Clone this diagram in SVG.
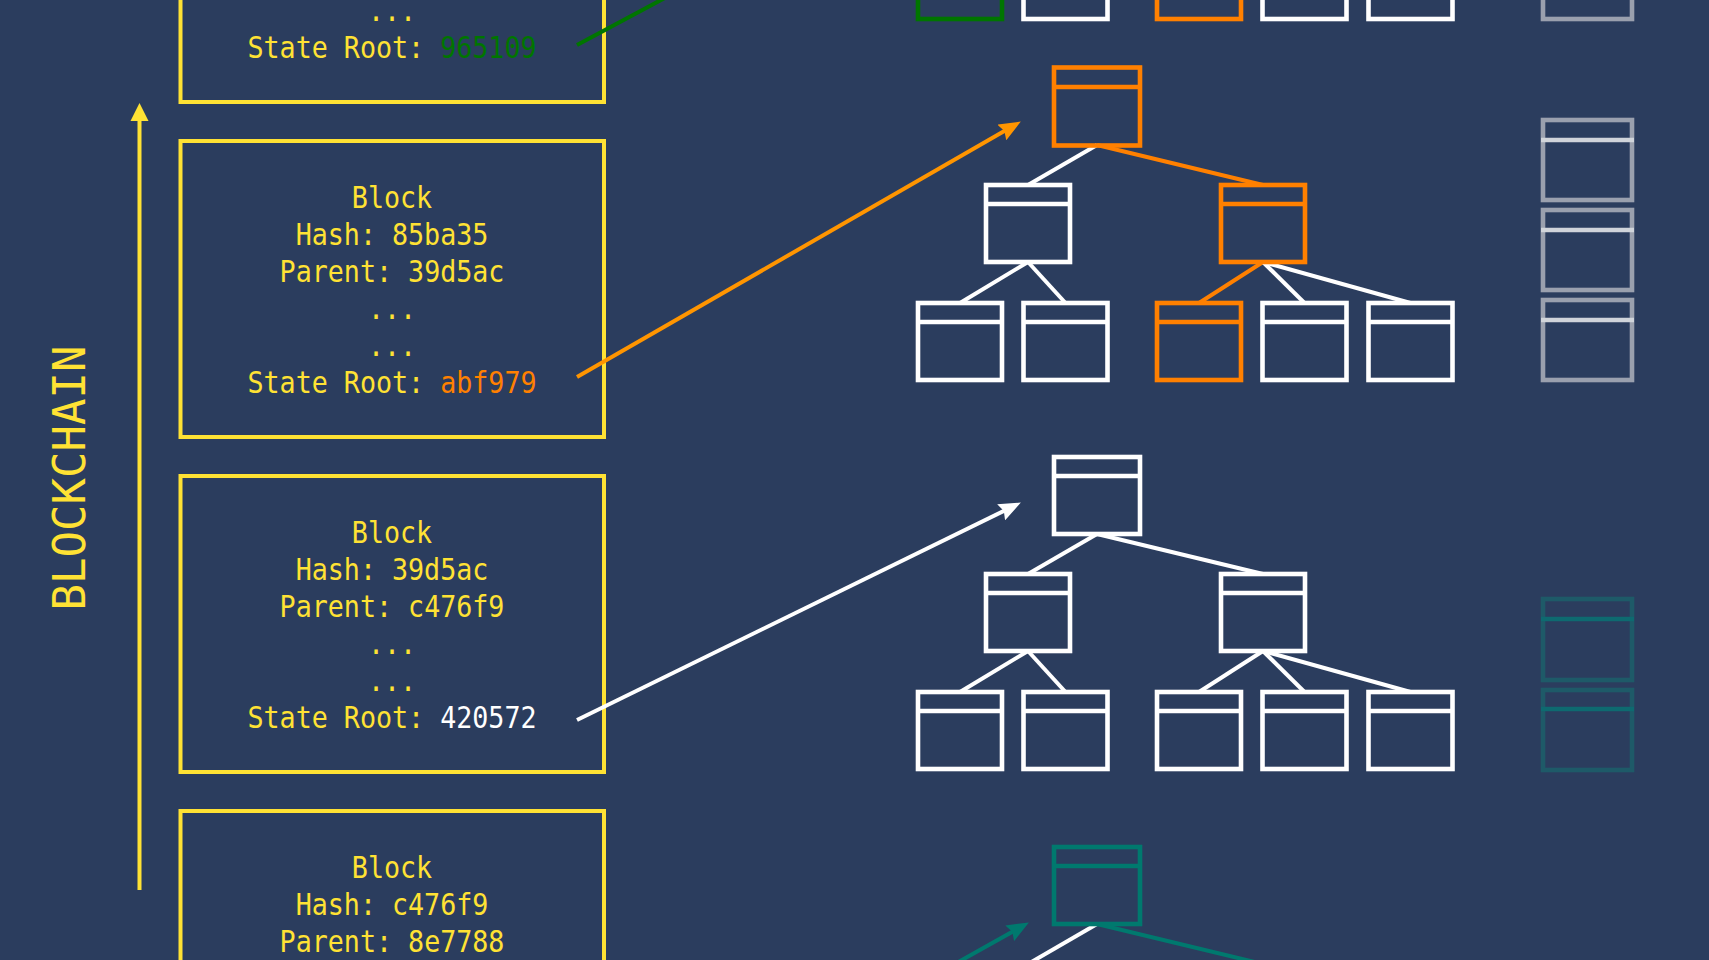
<svg xmlns="http://www.w3.org/2000/svg" width="1709" height="960" viewBox="0 0 1709 960">
<style>
.blk{fill:none;stroke:#FFE234;stroke-width:4}
.t{font-family:"DejaVu Sans Mono","Liberation Mono",monospace;font-size:30px;fill:#FFE234;text-anchor:middle}
.n{fill:none;stroke-width:4.6}
.w{stroke:#FFFFFF}
.o{stroke:#FF8000}
.g{stroke:#007500}
.tl{stroke:#00796E}
.gh{fill:none;stroke:#9AA0AE;stroke-width:4.6}
.ghd{stroke:#D0D4DA;stroke-width:4.6}
.th{fill:none;stroke:#1E5A68;stroke-width:4.6}
.thd{stroke:#0E6A70;stroke-width:4.6}
.e{fill:none;stroke-width:4}
</style>
<defs>
<marker id="aO" markerUnits="userSpaceOnUse" viewBox="0 0 22 18" refX="11" refY="9" markerWidth="22" markerHeight="18" orient="auto"><path d="M0,0 L22,9 L0,18 L3,9 z" fill="#FF9500"/></marker>
<marker id="aW" markerUnits="userSpaceOnUse" viewBox="0 0 22 18" refX="11" refY="9" markerWidth="22" markerHeight="18" orient="auto"><path d="M0,0 L22,9 L0,18 L3,9 z" fill="#FFFFFF"/></marker>
<marker id="aT" markerUnits="userSpaceOnUse" viewBox="0 0 22 18" refX="11" refY="9" markerWidth="22" markerHeight="18" orient="auto"><path d="M0,0 L22,9 L0,18 L3,9 z" fill="#00796E"/></marker>
</defs>
<rect width="1709" height="960" fill="#2B3D5E"/>

<g id="chain-label">
<text transform="translate(85,478) rotate(-90)" font-family="DejaVu Sans Mono, Liberation Mono, monospace" font-size="44" fill="#FFE234" text-anchor="middle">BLOCKCHAIN</text>
<line x1="139.5" y1="890" x2="139.5" y2="118" stroke="#FFE234" stroke-width="4"/>
<polygon points="139.5,103 148.5,121 130.5,121" fill="#FFE234"/>
</g>

<g id="block1">
<rect class="blk" x="180.5" y="-194" width="423.5" height="296"/>
<g transform="translate(392,0) scale(0.89,1)">
<text class="t" x="0" y="21">...</text>
<text class="t" x="0" y="58">State Root: <tspan fill="#007500">965109</tspan></text>
</g>
</g>
<g id="block2">
<rect class="blk" x="180.5" y="141" width="423.5" height="296"/>
<g transform="translate(392,0) scale(0.89,1)">
<text class="t" x="0" y="208">Block</text>
<text class="t" x="0" y="245">Hash: 85ba35</text>
<text class="t" x="0" y="282">Parent: 39d5ac</text>
<text class="t" x="0" y="319">...</text>
<text class="t" x="0" y="356">...</text>
<text class="t" x="0" y="393">State Root: <tspan fill="#FF8000">abf979</tspan></text>
</g>
</g>
<g id="block3">
<rect class="blk" x="180.5" y="476" width="423.5" height="296"/>
<g transform="translate(392,0) scale(0.89,1)">
<text class="t" x="0" y="543">Block</text>
<text class="t" x="0" y="580">Hash: 39d5ac</text>
<text class="t" x="0" y="617">Parent: c476f9</text>
<text class="t" x="0" y="654">...</text>
<text class="t" x="0" y="691">...</text>
<text class="t" x="0" y="728">State Root: <tspan fill="#FFFFFF">420572</tspan></text>
</g>
</g>
<g id="block4">
<rect class="blk" x="180.5" y="811" width="423.5" height="296"/>
<g transform="translate(392,0) scale(0.89,1)">
<text class="t" x="0" y="878">Block</text>
<text class="t" x="0" y="915">Hash: c476f9</text>
<text class="t" x="0" y="952">Parent: 8e7788</text>
</g>
</g>

<g id="connectors">
<line class="e" x1="577" y1="45" x2="760" y2="-53" stroke="#007500"/>
<line class="e" x1="577" y1="377" x2="1011.3" y2="127" stroke="#FF9500" marker-end="url(#aO)"/>
<line class="e" x1="577" y1="720" x2="1011" y2="507.4" stroke="#FFFFFF" marker-end="url(#aW)"/>
<line class="e" x1="940" y1="972.3" x2="1019.3" y2="927.9" stroke="#00796E" marker-end="url(#aT)"/>
<!-- tree 2 edges -->
<line class="e w" x1="1097" y1="145" x2="1028" y2="185"/>
<line class="e o" x1="1097" y1="145" x2="1263" y2="185"/>
<line class="e w" x1="1028" y1="262" x2="960" y2="303"/>
<line class="e w" x1="1028" y1="262" x2="1065.5" y2="303"/>
<line class="e o" x1="1263" y1="262" x2="1199" y2="303"/>
<line class="e w" x1="1263" y1="262" x2="1304.5" y2="303"/>
<line class="e w" x1="1263" y1="262" x2="1410.5" y2="303"/>
<!-- tree 3 edges -->
<line class="e w" x1="1097" y1="534" x2="1028" y2="574"/>
<line class="e w" x1="1097" y1="534" x2="1263" y2="574"/>
<line class="e w" x1="1028" y1="651" x2="960" y2="692"/>
<line class="e w" x1="1028" y1="651" x2="1065.5" y2="692"/>
<line class="e w" x1="1263" y1="651" x2="1199" y2="692"/>
<line class="e w" x1="1263" y1="651" x2="1304.5" y2="692"/>
<line class="e w" x1="1263" y1="651" x2="1410.5" y2="692"/>
<!-- tree 4 edges -->
<line class="e w" x1="1097" y1="924" x2="1028" y2="964"/>
<line class="e tl" x1="1097" y1="924" x2="1263" y2="964"/>
</g>

<g id="tree1-leaf1"><rect class="n g" x="918" y="-58" width="84" height="77"/></g>
<g id="tree1-leaf2"><rect class="n w" x="1023.5" y="-58" width="84" height="77"/></g>
<g id="tree1-leaf3"><rect class="n o" x="1157" y="-58" width="84" height="77"/></g>
<g id="tree1-leaf4"><rect class="n w" x="1262.5" y="-58" width="84" height="77"/></g>
<g id="tree1-leaf5"><rect class="n w" x="1368.5" y="-58" width="84" height="77"/></g>

<g id="tree2-root"><rect class="n o" x="1054" y="67.5" width="86" height="78"/><line class="n o" x1="1054" y1="87" x2="1140" y2="87"/></g>
<g id="tree2-left"><rect class="n w" x="986" y="185" width="84" height="77"/><line class="n w" x1="986" y1="204" x2="1070" y2="204"/></g>
<g id="tree2-right"><rect class="n o" x="1221" y="185" width="84" height="77"/><line class="n o" x1="1221" y1="204" x2="1305" y2="204"/></g>
<g id="tree2-leaf1"><rect class="n w" x="918" y="303" width="84" height="77"/><line class="n w" x1="918" y1="322" x2="1002" y2="322"/></g>
<g id="tree2-leaf2"><rect class="n w" x="1023.5" y="303" width="84" height="77"/><line class="n w" x1="1023.5" y1="322" x2="1107.5" y2="322"/></g>
<g id="tree2-leaf3"><rect class="n o" x="1157" y="303" width="84" height="77"/><line class="n o" x1="1157" y1="322" x2="1241" y2="322"/></g>
<g id="tree2-leaf4"><rect class="n w" x="1262.5" y="303" width="84" height="77"/><line class="n w" x1="1262.5" y1="322" x2="1346.5" y2="322"/></g>
<g id="tree2-leaf5"><rect class="n w" x="1368.5" y="303" width="84" height="77"/><line class="n w" x1="1368.5" y1="322" x2="1452.5" y2="322"/></g>

<g id="tree3-root"><rect class="n w" x="1054" y="457" width="86" height="77"/><line class="n w" x1="1054" y1="476" x2="1140" y2="476"/></g>
<g id="tree3-left"><rect class="n w" x="986" y="574" width="84" height="77"/><line class="n w" x1="986" y1="593" x2="1070" y2="593"/></g>
<g id="tree3-right"><rect class="n w" x="1221" y="574" width="84" height="77"/><line class="n w" x1="1221" y1="593" x2="1305" y2="593"/></g>
<g id="tree3-leaf1"><rect class="n w" x="918" y="692" width="84" height="77"/><line class="n w" x1="918" y1="711" x2="1002" y2="711"/></g>
<g id="tree3-leaf2"><rect class="n w" x="1023.5" y="692" width="84" height="77"/><line class="n w" x1="1023.5" y1="711" x2="1107.5" y2="711"/></g>
<g id="tree3-leaf3"><rect class="n w" x="1157" y="692" width="84" height="77"/><line class="n w" x1="1157" y1="711" x2="1241" y2="711"/></g>
<g id="tree3-leaf4"><rect class="n w" x="1262.5" y="692" width="84" height="77"/><line class="n w" x1="1262.5" y1="711" x2="1346.5" y2="711"/></g>
<g id="tree3-leaf5"><rect class="n w" x="1368.5" y="692" width="84" height="77"/><line class="n w" x1="1368.5" y1="711" x2="1452.5" y2="711"/></g>

<g id="tree4-root"><rect class="n tl" x="1054" y="847" width="86" height="77"/><line class="n tl" x1="1054" y1="866" x2="1140" y2="866"/></g>

<g id="ghost1"><rect class="gh" x="1543" y="-61" width="89" height="80"/></g>
<g id="ghost2"><rect class="gh" x="1543" y="120" width="89" height="80"/><line class="ghd" x1="1541" y1="140" x2="1634" y2="140"/></g>
<g id="ghost3"><rect class="gh" x="1543" y="210" width="89" height="80"/><line class="ghd" x1="1541" y1="230" x2="1634" y2="230"/></g>
<g id="ghost4"><rect class="gh" x="1543" y="300" width="89" height="80"/><line class="ghd" x1="1541" y1="320" x2="1634" y2="320"/></g>
<g id="ghost5"><rect class="th" x="1543" y="599" width="89" height="81"/><line class="thd" x1="1541" y1="619" x2="1634" y2="619"/></g>
<g id="ghost6"><rect class="th" x="1543" y="690" width="89" height="80"/><line class="thd" x1="1541" y1="709" x2="1634" y2="709"/></g>
</svg>
